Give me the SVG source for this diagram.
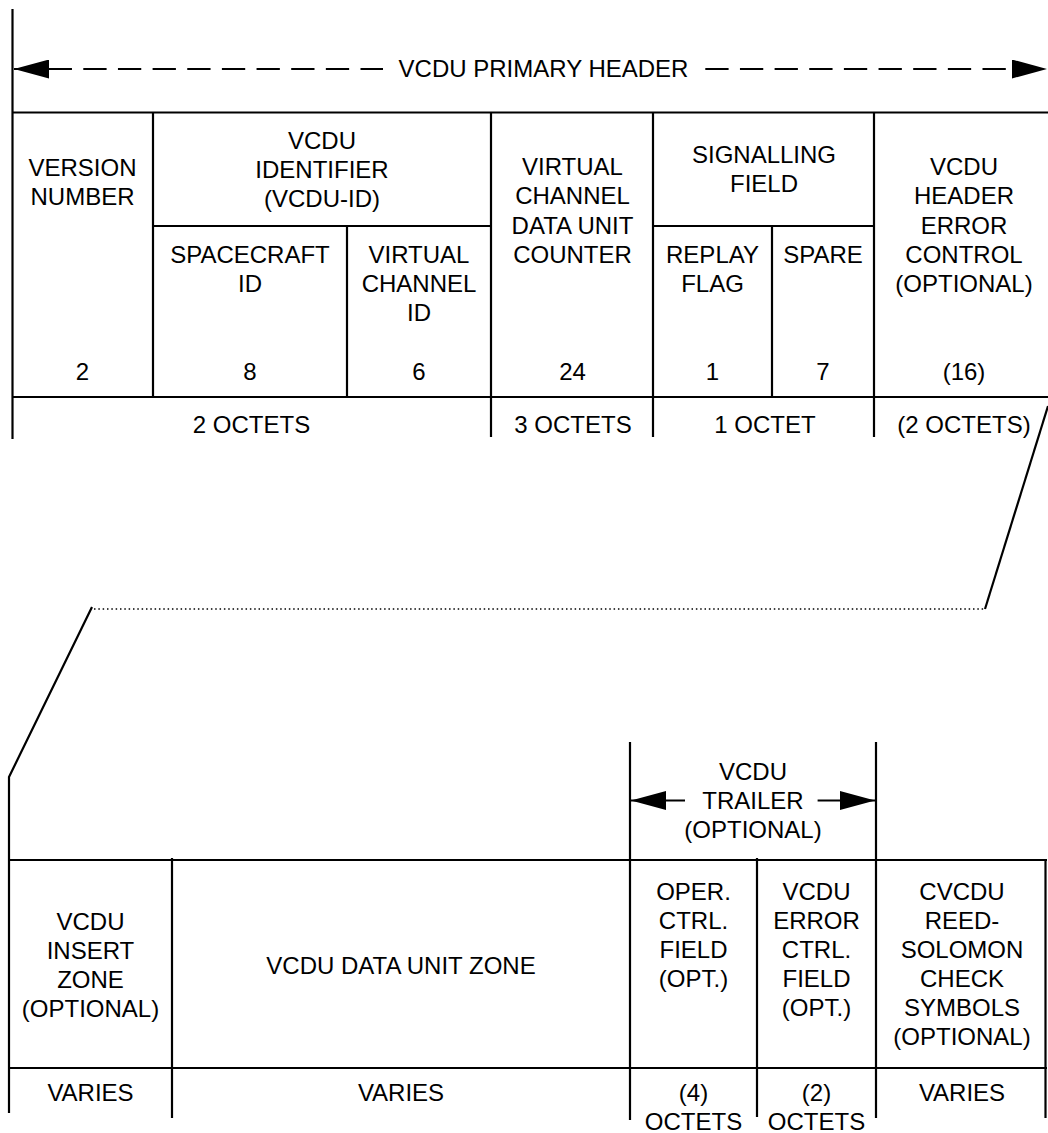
<svg xmlns="http://www.w3.org/2000/svg" width="1048" height="1133" viewBox="0 0 1048 1133">
  <style>
    .ln { stroke: #000; stroke-width: 2.2; fill: none; stroke-linecap: butt; }
    .dash { stroke: #000; stroke-width: 2.2; fill: none; stroke-dasharray: 23.3 11.35; }
    .dot { stroke: #000; stroke-width: 1.5; fill: none; stroke-dasharray: 1.5 2.83; }
    text { font-family: "Liberation Sans", Arial, Helvetica, sans-serif; font-size: 24px; fill: #000; text-anchor: middle; }
  </style>
  <defs>
    <marker id="head" viewBox="0 0 35 19" markerWidth="35" markerHeight="19" refX="35" refY="9.5" markerUnits="userSpaceOnUse" orient="auto-start-reverse">
      <path d="M0,0 L35,9.5 L0,19 Z" fill="#000"/>
    </marker>
  </defs>

  <!-- VCDU primary header span -->
  <g id="primary-header-span">
    <line class="ln" x1="12.5" y1="9" x2="12.5" y2="439"/>
    <line class="dash" x1="14" y1="69" x2="383" y2="69" marker-start="url(#head)"/>
    <line class="dash" x1="705.3" y1="69" x2="1047" y2="69" marker-end="url(#head)"/>
    <text x="543.5" y="77">VCDU PRIMARY HEADER</text>
  </g>

  <!-- primary header grid -->
  <g id="header-grid">
    <line class="ln" x1="12" y1="112.5" x2="1048" y2="112.5"/>
    <line class="ln" x1="153" y1="226" x2="491" y2="226"/>
    <line class="ln" x1="653" y1="226" x2="874" y2="226"/>
    <line class="ln" x1="12" y1="397" x2="1048" y2="397"/>
    <line class="ln" x1="153" y1="112" x2="153" y2="397"/>
    <line class="ln" x1="347" y1="226" x2="347" y2="397"/>
    <line class="ln" x1="491" y1="112" x2="491" y2="437"/>
    <line class="ln" x1="653" y1="112" x2="653" y2="437"/>
    <line class="ln" x1="772" y1="226" x2="772" y2="396"/>
    <line class="ln" x1="874" y1="112" x2="874" y2="437"/>
  </g>

  <g id="version-number">
    <text x="82.5" y="176">VERSION</text>
    <text x="82.5" y="205">NUMBER</text>
    <text x="82.5" y="380">2</text>
  </g>
  <g id="vcdu-identifier">
    <text x="322" y="149">VCDU</text>
    <text x="322" y="178">IDENTIFIER</text>
    <text x="322" y="207">(VCDU-ID)</text>
  </g>
  <g id="spacecraft-id">
    <text x="250" y="263">SPACECRAFT</text>
    <text x="250" y="292">ID</text>
    <text x="250" y="380">8</text>
  </g>
  <g id="virtual-channel-id">
    <text x="419" y="263">VIRTUAL</text>
    <text x="419" y="292">CHANNEL</text>
    <text x="419" y="321">ID</text>
    <text x="419" y="380">6</text>
  </g>
  <g id="vc-data-unit-counter">
    <text x="572.5" y="175">VIRTUAL</text>
    <text x="572.5" y="204">CHANNEL</text>
    <text x="572.5" y="234">DATA UNIT</text>
    <text x="572.5" y="263">COUNTER</text>
    <text x="572.5" y="380">24</text>
  </g>
  <g id="signalling-field">
    <text x="764" y="163">SIGNALLING</text>
    <text x="764" y="192">FIELD</text>
  </g>
  <g id="replay-flag">
    <text x="712.5" y="263">REPLAY</text>
    <text x="712.5" y="292">FLAG</text>
    <text x="712.5" y="380">1</text>
  </g>
  <g id="spare">
    <text x="823" y="263">SPARE</text>
    <text x="823" y="380">7</text>
  </g>
  <g id="header-error-control">
    <text x="964" y="175">VCDU</text>
    <text x="964" y="204">HEADER</text>
    <text x="964" y="234">ERROR</text>
    <text x="964" y="263">CONTROL</text>
    <text x="964" y="292">(OPTIONAL)</text>
    <text x="964" y="380">(16)</text>
  </g>

  <!-- octet counts under the header -->
  <g id="header-octets">
    <text x="251.5" y="433">2 OCTETS</text>
    <text x="573" y="433">3 OCTETS</text>
    <text x="765" y="433">1 OCTET</text>
    <text x="964" y="433">(2 OCTETS)</text>
  </g>

  <!-- expansion outline linking the header to the full frame -->
  <g id="connectors">
    <line class="ln" x1="1048" y1="406" x2="985" y2="609"/>
    <line class="dot" x1="94" y1="609" x2="984" y2="609"/>
    <polyline class="ln" points="92,607 9,777 9,1113"/>
  </g>

  <!-- VCDU trailer span -->
  <g id="trailer-span">
    <line class="ln" x1="630" y1="742" x2="630" y2="1120"/>
    <line class="ln" x1="876" y1="742" x2="876" y2="1118"/>
    <line class="ln" x1="631" y1="800.5" x2="685" y2="800.5" marker-start="url(#head)"/>
    <line class="ln" x1="817.6" y1="800.5" x2="875" y2="800.5" marker-end="url(#head)"/>
    <text x="753" y="780">VCDU</text>
    <text x="753" y="809">TRAILER</text>
    <text x="753" y="838">(OPTIONAL)</text>
  </g>

  <!-- frame grid -->
  <g id="frame-grid">
    <line class="ln" x1="9" y1="860" x2="1047" y2="860"/>
    <line class="ln" x1="9" y1="1068" x2="1047" y2="1068"/>
    <line class="ln" x1="172" y1="858" x2="172" y2="1118"/>
    <line class="ln" x1="757" y1="858" x2="757" y2="1117"/>
    <line class="ln" x1="1045.5" y1="859" x2="1045.5" y2="1118"/>
  </g>

  <g id="insert-zone">
    <text x="90.5" y="930">VCDU</text>
    <text x="90.5" y="959">INSERT</text>
    <text x="90.5" y="988">ZONE</text>
    <text x="90.5" y="1017">(OPTIONAL)</text>
    <text x="90.5" y="1101">VARIES</text>
  </g>
  <g id="data-unit-zone">
    <text x="401" y="974">VCDU DATA UNIT ZONE</text>
    <text x="401" y="1101">VARIES</text>
  </g>
  <g id="oper-ctrl-field">
    <text x="693.5" y="900">OPER.</text>
    <text x="693.5" y="929">CTRL.</text>
    <text x="693.5" y="958">FIELD</text>
    <text x="693.5" y="987">(OPT.)</text>
    <text x="693.5" y="1101">(4)</text>
    <text x="693.5" y="1130">OCTETS</text>
  </g>
  <g id="error-ctrl-field">
    <text x="816.5" y="900">VCDU</text>
    <text x="816.5" y="929">ERROR</text>
    <text x="816.5" y="958">CTRL.</text>
    <text x="816.5" y="987">FIELD</text>
    <text x="816.5" y="1016">(OPT.)</text>
    <text x="816.5" y="1101">(2)</text>
    <text x="816.5" y="1130">OCTETS</text>
  </g>
  <g id="reed-solomon-check">
    <text x="962" y="900">CVCDU</text>
    <text x="962" y="929">REED-</text>
    <text x="962" y="958">SOLOMON</text>
    <text x="962" y="987">CHECK</text>
    <text x="962" y="1016">SYMBOLS</text>
    <text x="962" y="1045">(OPTIONAL)</text>
    <text x="962" y="1101">VARIES</text>
  </g>
</svg>
